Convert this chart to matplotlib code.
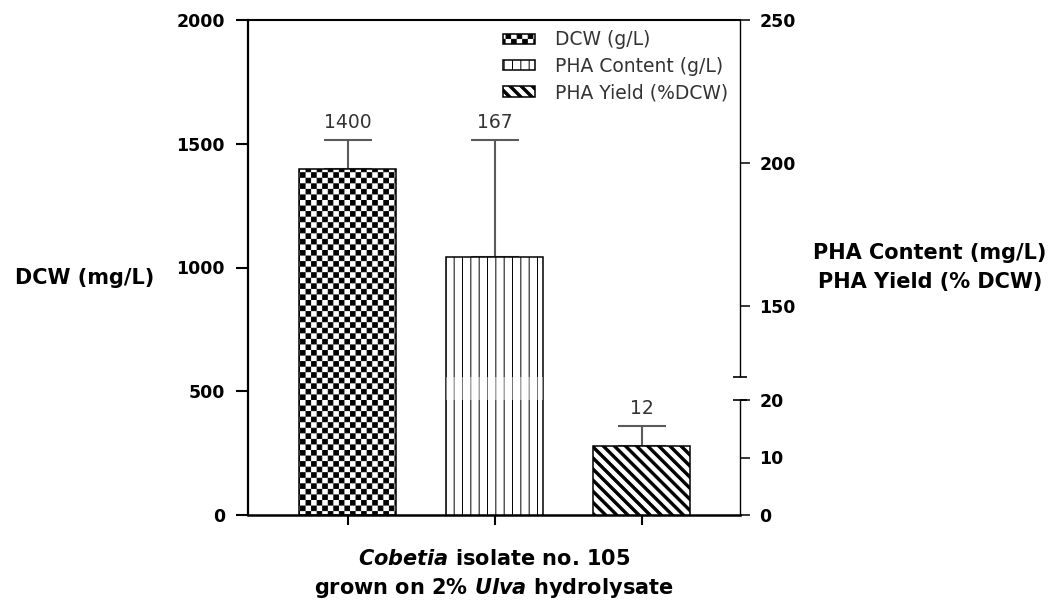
import numpy as np
import matplotlib
matplotlib.use('Agg')
import matplotlib.pyplot as plt
import matplotlib.hatch as mhatch
import matplotlib.transforms as mtransforms
from matplotlib.path import Path

# data
series = ['DCW (g/L)', 'PHA Content (g/L)', 'PHA Yield (%DCW)']
values = [1400, 167, 12]
errors = [117, 41, 3.5]
value_labels = ['1400', '167', '12']
left_ticks = [0, 500, 1000, 1500, 2000]
right_ticks = [0, 10, 20, 150, 200, 250]

# broken right axis: 0-20 at the bottom, 125-250 above the gap
LOW_TOP, HIGH_BOTTOM, RIGHT_MAX = 20, 125, 250
brk_data = [0, LOW_TOP, HIGH_BOTTOM, RIGHT_MAX]
brk_vis = [0, 115, 138, 495]


def fwd(y):
    return np.interp(y, brk_data, brk_vis)


def inv(v):
    return np.interp(v, brk_vis, brk_data)


# custom hatches: checkerboard ('O') and thick backslash stripes ('*')
class Checker(mhatch.HatchPatternBase):
    def __init__(self, hatch, density):
        self.n = 18 if 'O' in hatch else 0
        self.num_vertices = (self.n * self.n // 2) * 5

    def set_vertices_and_codes(self, vertices, codes):
        n = self.n
        s = 1.0 / n
        p = 0.0048
        k = 0
        for i in range(n):
            for j in range(n):
                if (i + j) % 2:
                    continue
                x0, y0 = i * s + p, j * s + p
                x1, y1 = (i + 1) * s - p, (j + 1) * s - p
                vertices[k:k + 5] = [(x0, y0), (x1, y0), (x1, y1), (x0, y1), (x0, y0)]
                codes[k:k + 5] = [Path.MOVETO, Path.LINETO, Path.LINETO,
                                  Path.LINETO, Path.CLOSEPOLY]
                k += 5


class ThickBackslash(mhatch.HatchPatternBase):
    def __init__(self, hatch, density):
        self.n = 9 if '*' in hatch else 0
        self.num_vertices = (2 * self.n + 1) * 5 if self.n else 0

    def set_vertices_and_codes(self, vertices, codes):
        n = self.n
        w = 0.034
        for i, x0 in enumerate(np.arange(-n, n + 1) / n):
            vertices[5 * i:5 * i + 5] = [(x0, 1), (x0 + w, 1), (x0 + w + 1, 0),
                                         (x0 + 1, 0), (x0, 1)]
            codes[5 * i:5 * i + 5] = [Path.MOVETO, Path.LINETO, Path.LINETO,
                                      Path.LINETO, Path.CLOSEPOLY]


mhatch._hatch_types = [t for t in mhatch._hatch_types
                       if t not in (mhatch.LargeCircles, mhatch.Stars)]
mhatch._hatch_types += [Checker, ThickBackslash]

plt.rcParams['hatch.linewidth'] = 0.7
plt.rcParams['mathtext.fontset'] = 'custom'
plt.rcParams['mathtext.rm'] = 'DejaVu Sans:bold'
plt.rcParams['mathtext.it'] = 'DejaVu Sans:italic:bold'
plt.rcParams['mathtext.bf'] = 'DejaVu Sans:bold'

hatches = ['O', '||', '*']
x = np.arange(len(values))
bar_w = 0.66

fig = plt.figure(figsize=(10.54, 6.08), dpi=100)
ax = fig.add_axes([248 / 1054, 93 / 608, 492 / 1054, 495 / 608])
ax2 = ax.twinx()
ax2.set_yscale('function', functions=(fwd, inv))

ax.set_xlim(-0.68, 2.667)
ax.set_ylim(0, 2000)
ax2.set_ylim(0, RIGHT_MAX)

bars = []
for i, (val, err) in enumerate(zip(values, errors)):
    target = ax if i == 0 else ax2
    b = target.bar(x[i], val, width=bar_w, facecolor='white', edgecolor='black',
                   linewidth=1.1, hatch=hatches[i], label=series[i], zorder=2)
    bars.append(b)
    target.errorbar(x[i], val, yerr=[[0], [err]], fmt='none', ecolor='#5a5a5a',
                    elinewidth=1.5, capsize=17, capthick=1.5, zorder=1)
    target.annotate(value_labels[i], (x[i], val + err), xytext=(0, 5.5),
                    textcoords='offset points', ha='center', va='bottom',
                    fontsize=13.5, color='#333333')

# faded band where the PHA bar crosses the axis break
ax2.bar(x[1], HIGH_BOTTOM - LOW_TOP, bottom=LOW_TOP, width=bar_w, color='white',
        alpha=0.45, linewidth=0, zorder=3)

# spines
ax.spines['right'].set_visible(False)
for s in ['left', 'right', 'top', 'bottom']:
    ax2.spines[s].set_visible(False)
ax.spines['left'].set_linewidth(1.6)
ax.spines['bottom'].set_linewidth(1.8)
ax.spines['top'].set_linewidth(1.5)

trans = mtransforms.blended_transform_factory(ax2.transAxes, ax2.transData)
ax2.plot([1, 1], [0, LOW_TOP], color='black', lw=1.0, transform=trans,
         clip_on=False, solid_capstyle='butt')
ax2.plot([1, 1], [HIGH_BOTTOM, RIGHT_MAX], color='black', lw=1.0, transform=trans,
         clip_on=False, solid_capstyle='butt')
ax2.plot([1, 1], [LOW_TOP, HIGH_BOTTOM], linestyle='none', marker='_', ms=10,
         mew=1.2, color='black', transform=trans, clip_on=False)

# ticks
ax.set_xticks(x)
ax.set_xticklabels([])
ax.tick_params(axis='x', direction='out', length=7, width=1.5)
ax.set_yticks(left_ticks, [str(t) for t in left_ticks], fontweight='bold')
ax.tick_params(axis='y', direction='out', length=8.6, width=1.5, pad=8,
               labelsize=12.5)
ax2.set_yticks(right_ticks, [str(t) for t in right_ticks], fontweight='bold')
ax2.tick_params(axis='y', direction='out', length=7.5, width=1.1, pad=6.5,
                labelsize=12.5)
ax2.minorticks_off()

# labels
ax.set_ylabel('DCW (mg/L)', rotation=0, fontsize=15, fontweight='bold',
              ha='center', va='center')
ax.yaxis.set_label_coords(-0.333, 0.479)
ax2.set_ylabel('PHA Content (mg/L)\nPHA Yield (% DCW)', rotation=0, fontsize=15,
               fontweight='bold', ha='center', va='center', linespacing=1.53)
ax2.yaxis.set_label_coords(1.386, 0.5)
ax.set_xlabel(r'$\mathit{Cobetia}$ isolate no. 105' + '\n'
              + r'grown on 2% $\mathit{Ulva}$ hydrolysate',
              fontsize=15, fontweight='bold', linespacing=1.4)
ax.xaxis.set_label_coords(0.5, -0.121)
ax.xaxis.label.set_va('center')

ax2.legend(handles=bars, labels=series, loc='upper left',
           bbox_to_anchor=(0.518, 0.979), frameon=False, fontsize=13.5,
           handlelength=1.7, handleheight=0.48, handletextpad=1.07,
           labelspacing=0.39, borderpad=0, borderaxespad=0, labelcolor='#333333')

fig.savefig('out.png', dpi=100)
